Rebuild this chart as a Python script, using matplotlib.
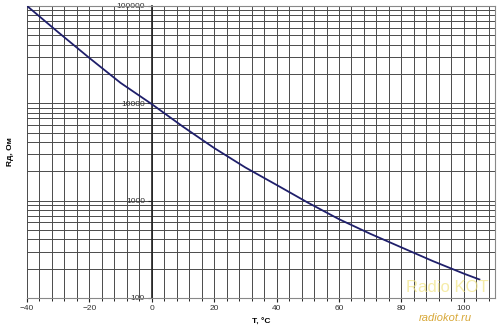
import matplotlib
matplotlib.use("Agg")
import matplotlib.pyplot as plt
import numpy as np
from matplotlib.ticker import FixedLocator, NullFormatter


# Data (temperature, resistance)
temp_c = [-40, -30, -20, -10, 0, 10, 20, 30, 40, 50, 60, 70, 80, 90, 100, 105]
res_ohm = [100000, 53700, 29200, 16200, 9800, 5750, 3470, 2190, 1450, 955,
           645, 457, 331, 240, 178, 155]
xticks = [-40, -20, 0, 20, 40, 60, 80, 100]
yticks = [100, 1000, 10000, 100000]
ytick_labels = ["100", "1000", "10000", "100000"]

plt.rcParams["font.family"] = ["Liberation Sans", "DejaVu Sans"]

fig = plt.figure(figsize=(5.0, 3.3), dpi=100)
ax = fig.add_axes([0.054, 0.097, 0.936, 0.885])

ax.set_yscale("log")
ax.set_xlim(-40, 110)
ax.set_ylim(100, 100000)

# grid: every 4 degrees, log minor lines
ax.set_xticks(xticks)
ax.xaxis.set_minor_locator(FixedLocator(np.arange(-40, 111, 4)))
ax.set_yticks(yticks)
ax.set_yticklabels(ytick_labels)
ax.yaxis.set_minor_formatter(NullFormatter())
ax.grid(which="both", color="#4a4a4a", lw=0.7)

ax.plot(temp_c, res_ohm, color="#1f1f6b", lw=1.3, zorder=3)

# y axis sits at T = 0
ax.spines["left"].set_position(("data", 0))
ax.spines["left"].set_color("#222222")
ax.spines["left"].set_linewidth(1.2)
for s in ["top", "right", "bottom"]:
    ax.spines[s].set_color("#888888")
    ax.spines[s].set_linewidth(0.8)

ax.tick_params(axis="both", which="major", labelsize=6, length=3,
               color="#222222", pad=2, labelcolor="#333333")
ax.tick_params(axis="y", which="minor", length=0)
ax.tick_params(axis="x", which="minor", length=2)

ax.text(-0.036, 0.5, "Rд, Ом", transform=ax.transAxes, rotation=90,
        ha="center", va="center", fontsize=6, fontweight="bold")
ax.text(0.5, -0.085, "T, °C", transform=ax.transAxes, ha="center",
        va="center", fontsize=6, fontweight="bold")

# watermark
fig.text(0.895, 0.13, "Radio KOT", fontsize=12, color="#f2e68a", alpha=0.75,
         ha="center", va="center", fontstretch="condensed", zorder=5)
fig.text(0.89, 0.036, "radiokot.ru", fontsize=8, color="#d8a838",
         style="italic", ha="center", va="center", zorder=5)

fig.savefig("out.png", dpi=100)
